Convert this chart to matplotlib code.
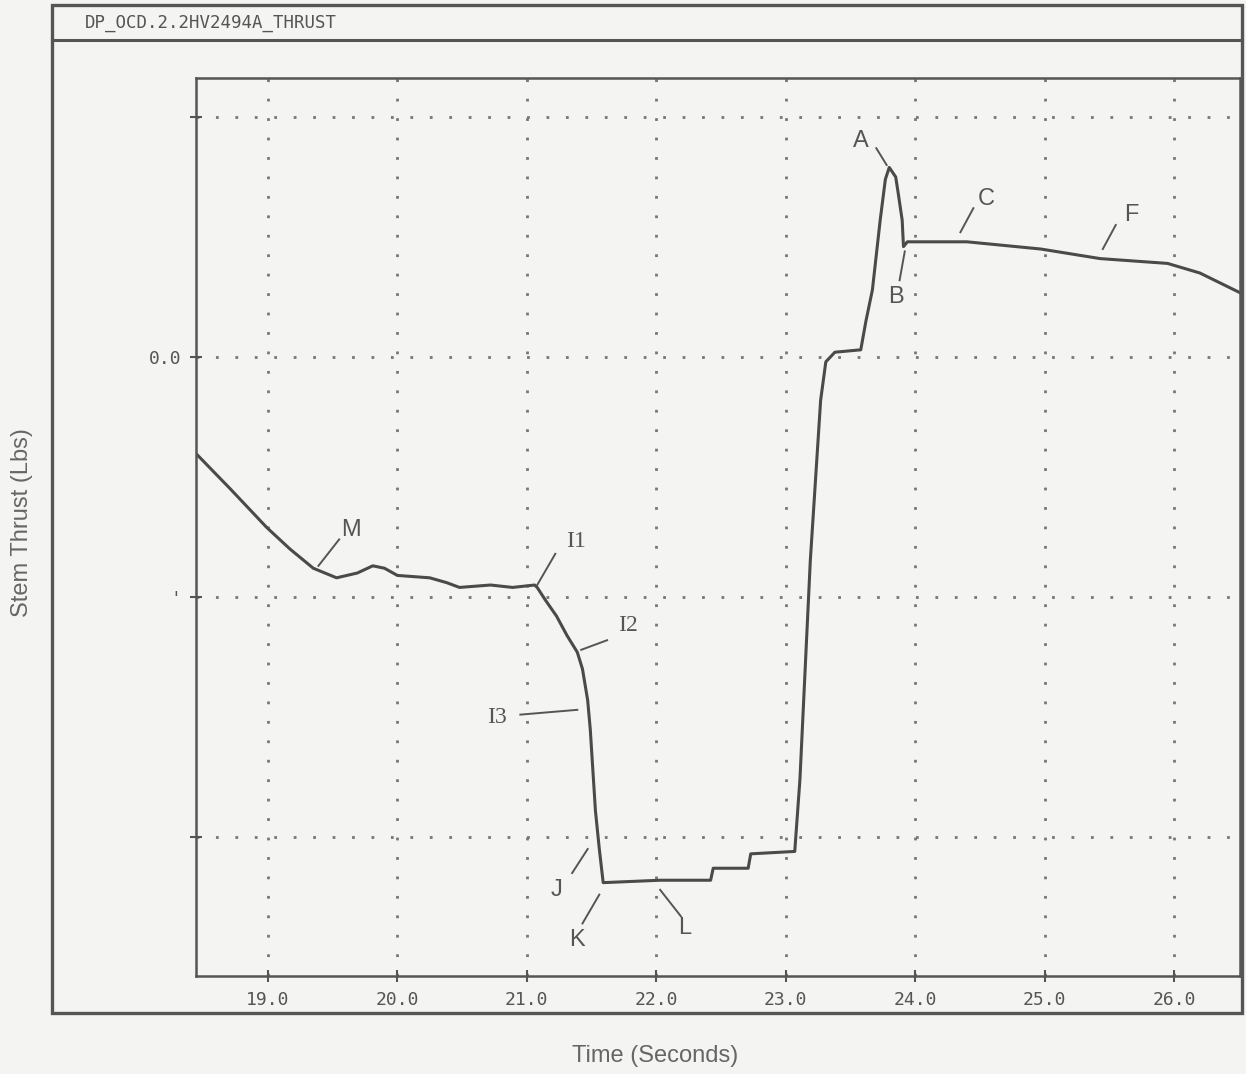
import matplotlib
matplotlib.use("Agg")
import matplotlib.pyplot as plt
from matplotlib.patches import Rectangle
from matplotlib.lines import Line2D

# trace (time in s, thrust in grid units, 0.0 = centre line)
time_s = [18.44, 18.71, 18.99, 19.17, 19.35, 19.53, 19.69, 19.81, 19.90, 20.00,
          20.25, 20.38, 20.48, 20.72, 20.89, 21.06, 21.08, 21.14, 21.23, 21.31,
          21.39, 21.43, 21.47, 21.49, 21.51, 21.53, 21.56, 21.59, 22.03, 22.42,
          22.44, 22.71, 22.73, 23.07, 23.11, 23.19, 23.27, 23.31, 23.38, 23.58,
          23.62, 23.67, 23.73, 23.77, 23.80, 23.85, 23.87, 23.90, 23.91, 23.94,
          24.40, 24.97, 25.43, 25.95, 26.20, 26.54]
thrust = [-0.40, -0.55, -0.71, -0.80, -0.88, -0.92, -0.90, -0.87, -0.88, -0.91,
          -0.92, -0.94, -0.96, -0.95, -0.96, -0.95, -0.96, -1.01, -1.08, -1.16,
          -1.23, -1.30, -1.43, -1.55, -1.72, -1.89, -2.05, -2.19, -2.18, -2.18,
          -2.13, -2.13, -2.07, -2.06, -1.76, -0.85, -0.18, -0.02, 0.02, 0.03,
          0.15, 0.28, 0.57, 0.74, 0.79, 0.75, 0.68, 0.57, 0.46, 0.48,
          0.48, 0.45, 0.41, 0.39, 0.35, 0.26]

x_ticks = [19, 20, 21, 22, 23, 24, 25, 26]
x_labels = ["19.0", "20.0", "21.0", "22.0", "23.0", "24.0", "25.0", "26.0"]
y_ticks = [1, 0, -1, -2]
y_labels = ["", "0.0", "'", ""]

# marker labels: (text, text x, text y, leader start, leader end)
notes = [
    ("M", 19.64, -0.72, (19.39, -0.87), (19.55, -0.76)),
    ("I1", 21.38, -0.77, (21.08, -0.95), (21.22, -0.82)),
    ("I2", 21.78, -1.12, (21.42, -1.22), (21.62, -1.18)),
    ("I3", 20.77, -1.50, (20.95, -1.49), (21.39, -1.47)),
    ("J", 21.23, -2.22, (21.35, -2.15), (21.47, -2.05)),
    ("K", 21.39, -2.43, (21.43, -2.36), (21.56, -2.24)),
    ("L", 22.22, -2.38, (22.03, -2.22), (22.19, -2.33)),
    ("A", 23.58, 0.90, (23.70, 0.87), (23.78, 0.80)),
    ("B", 23.85, 0.25, (23.88, 0.32), (23.92, 0.44)),
    ("C", 24.55, 0.66, (24.35, 0.52), (24.45, 0.62)),
    ("F", 25.67, 0.59, (25.45, 0.45), (25.55, 0.55)),
]

ink = "#555555"
paper = "#f4f4f2"

fig = plt.figure(figsize=(12.46, 10.74), dpi=100, facecolor=paper)
ax = fig.add_axes([196 / 1246, 1 - 976 / 1074, (1240 - 196) / 1246, (976 - 78) / 1074])
ax.set_facecolor(paper)

ax.plot(time_s, thrust, color="#4a4a4a", lw=2.2, solid_joinstyle="round")

ax.set_xlim(18.444, 26.51)
ax.set_ylim(-2.579, 1.1625)
ax.set_xticks(x_ticks)
ax.set_xticklabels(x_labels, family="DejaVu Sans Mono", fontsize=13, color=ink)
ax.set_yticks(y_ticks)
ax.set_yticklabels(y_labels, family="DejaVu Sans Mono", fontsize=13, color=ink)
ax.tick_params(direction="inout", length=9, width=1.5, color=ink, pad=6)
ax.grid(True, color="#777777", linestyle=(0, (1, 6)), linewidth=2)
for s in ax.spines.values():
    s.set_color(ink)
    s.set_linewidth(1.8)

for txt, tx, ty, p0, p1 in notes:
    ax.text(tx, ty, txt, family="Liberation Serif" if txt.startswith("I") else "Liberation Sans",
            fontsize=17, color=ink, ha="center", va="center")
    ax.plot([p0[0], p1[0]], [p0[1], p1[1]], color=ink, lw=1.4)

# outer frame and title bar of the printout
fig.patches.append(Rectangle((52 / 1246, 1 - 1013 / 1074), (1242 - 52) / 1246, (1013 - 5) / 1074,
                             transform=fig.transFigure, fill=False, ec=ink, lw=2.4))
fig.lines.append(Line2D([52 / 1246, 1242 / 1246], [1 - 40 / 1074, 1 - 40 / 1074],
                        transform=fig.transFigure, color=ink, lw=2.2))
fig.text(85 / 1246, 1 - 23 / 1074, "DP_OCD.2.2HV2494A_THRUST", family="DejaVu Sans Mono",
         fontsize=12.5, color=ink, va="center", ha="left")

fig.text(22 / 1246, 1 - 523 / 1074, "Stem Thrust (Lbs)", rotation=90, family="Liberation Sans",
         fontsize=17, color="#666666", va="center", ha="center")
fig.text(655 / 1246, 1 - 1056 / 1074, "Time (Seconds)", family="Liberation Sans",
         fontsize=17, color="#666666", va="center", ha="center")

fig.savefig("out.png", dpi=100, facecolor=paper)
